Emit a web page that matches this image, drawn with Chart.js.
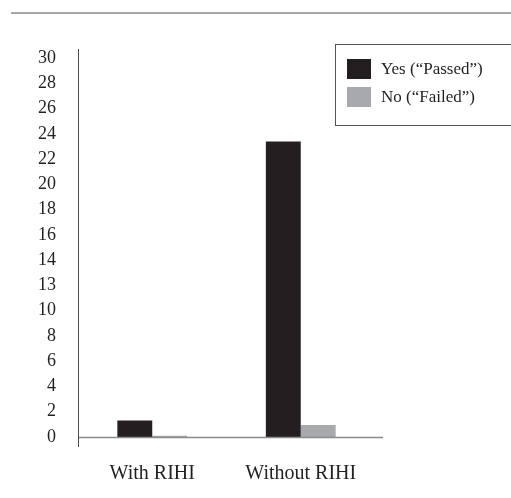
<!DOCTYPE html>
<html>
<head>
<meta charset="utf-8">
<script src="https://cdn.jsdelivr.net/npm/chart.js@4/dist/chart.umd.min.js"></script>
<style>
  body { margin: 0; background: #fff; }
  #wrap { position: relative; width: 511px; height: 498px; }
  #legend {
    position: absolute; left: 335px; top: 44px; width: 190px; height: 82px;
    border: 1px solid #555; box-sizing: border-box;
    font-family: "Liberation Serif", serif; font-size: 17px; color: #231f20;
  }
  .item { position: absolute; left: 11px; height: 20px; line-height: 20px; }
  .item span { display: inline-block; width: 24px; height: 20px; vertical-align: top; margin-right: 10px; }
</style>
</head>
<body>
<div id="wrap">
  <canvas id="chart" width="511" height="498"></canvas>
  <div id="legend"></div>
</div>
<script>
// data
const categories = ["With RIHI", "Without RIHI"];
const passed = [1.3, 23.4];
const failed = [0.1, 0.95];
const seriesNames = ["Yes (\u201cPassed\u201d)", "No (\u201cFailed\u201d)"];
// printed tick labels, bottom to top (one per step of 2)
const tickLabels = ["0", "2", "4", "6", "8", "10", "13", "14", "16", "18", "20", "22", "24", "26", "28", "30"];

const dark = '#231f20';
const grey = '#a7a9ac';

// axis lines + rule at top of page
const axisLines = {
  id: 'axisLines',
  afterDraw(chart) {
    const ctx = chart.ctx;
    const a = chart.chartArea;
    ctx.save();
    ctx.strokeStyle = '#8a8a8a';
    ctx.lineWidth = 1.5;
    ctx.beginPath();
    ctx.moveTo(11, 13);
    ctx.lineTo(511, 13);
    ctx.stroke();
    ctx.beginPath();
    ctx.moveTo(a.left, a.bottom + 0.5);
    ctx.lineTo(383, a.bottom + 0.5);
    ctx.stroke();
    ctx.strokeStyle = '#4d4d4d';
    ctx.lineWidth = 1;
    ctx.beginPath();
    ctx.moveTo(a.left + 0.5, a.top - 9);
    ctx.lineTo(a.left + 0.5, a.bottom + 10);
    ctx.stroke();
    ctx.restore();
  }
};

const chart = new Chart(document.getElementById('chart'), {
  type: 'bar',
  data: {
    labels: categories,
    datasets: [
      { label: seriesNames[0], data: passed, backgroundColor: dark },
      { label: seriesNames[1], data: failed, backgroundColor: grey }
    ]
  },
  options: {
    responsive: false,
    animation: false,
    layout: { padding: { top: 58, right: 136, left: 0, bottom: 0 } },
    datasets: { bar: { categoryPercentage: 0.47, barPercentage: 1 } },
    scales: {
      x: {
        grid: { display: false },
        border: { display: false },
        ticks: { color: dark, padding: 17, font: { family: 'Liberation Serif', size: 20 } },
        afterFit: s => { s.height = 61; }
      },
      y: {
        min: 0,
        max: 30,
        grid: { display: false },
        border: { display: false },
        ticks: {
          stepSize: 2,
          padding: 14,
          color: dark,
          font: { family: 'Liberation Serif', size: 18 },
          callback: (v, i) => tickLabels[i]
        },
        afterFit: s => { s.width = 78; }
      }
    },
    plugins: { legend: { display: false }, tooltip: { enabled: false } }
  },
  plugins: [axisLines]
});

// html legend from the datasets
const legend = document.getElementById('legend');
chart.data.datasets.forEach((ds, i) => {
  legend.insertAdjacentHTML('beforeend',
    `<div class="item" style="top:${14 + i * 28}px"><span style="background:${ds.backgroundColor}"></span>${ds.label}</div>`);
});
</script>
</body>
</html>
